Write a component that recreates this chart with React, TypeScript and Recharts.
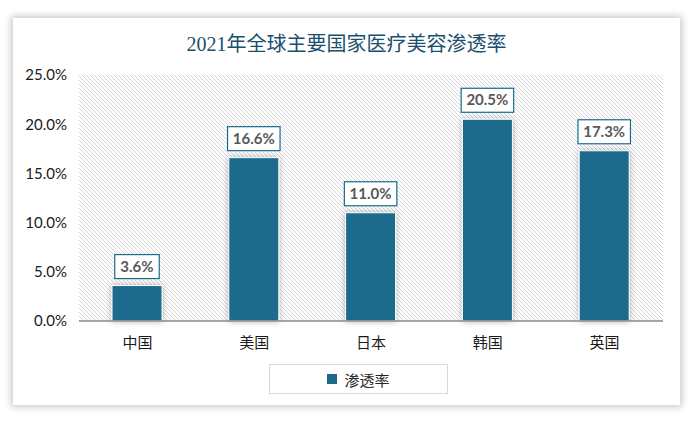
import React from "react";
import { Bar, BarChart, CartesianGrid, LabelList, XAxis, YAxis } from "recharts";

const countries = ["中国", "美国", "日本", "韩国", "英国"];
const penetration = [3.6, 16.6, 11.0, 20.5, 17.3];
const yTicks = [0, 5, 10, 15, 20, 25];

const data = countries.map((country, i) => ({ country, rate: penetration[i] }));

const BAR = "#1b6a8c";
const pct = (v: number) => `${v.toFixed(1)}%`;

const charW = (s: string) =>
  s.split("").reduce((w, c) => w + (c === "." ? 4 : c === "%" ? 12.5 : 8), 0);

function ValueBox(props: any) {
  const { x, y, width, value } = props;
  const text = pct(Number(value));
  const w = charW(text) + 12;
  const h = 24;
  const cx = x + width / 2;
  const top = y - 7 - h;
  return (
    <g>
      <rect x={cx - w / 2} y={top} width={w} height={h} fill="#fff" stroke={BAR} strokeWidth={1.2} />
      <text
        x={cx}
        y={top + h / 2 + 5}
        textAnchor="middle"
        fontFamily="Lato, 'Noto Sans', sans-serif"
        fontWeight={700}
        fontSize={15}
        fill="#595959"
      >
        {text}
      </text>
    </g>
  );
}

export default function App() {
  return (
    <div style={{ position: "absolute", left: 0, top: 0, width: 699, height: 426, background: "#fff" }}>
      <div
        style={{
          position: "absolute",
          left: 13,
          top: 18,
          width: 667,
          height: 387,
          background: "#fff",
          boxShadow: "0 0 7px 2px rgba(0,0,0,0.22)",
        }}
      >
        <div
          style={{
            position: "absolute",
            left: 0,
            top: 10,
            width: 667,
            textAlign: "center",
            fontFamily: "'Liberation Serif', 'Noto Sans CJK SC', serif",
            fontSize: 20,
            color: "#1b4f6e",
            zIndex: 1,
          }}
        >
          2021年全球主要国家医疗美容渗透率
        </div>
        <BarChart
          width={667}
          height={387}
          data={data}
          margin={{ top: 57, right: 17, left: 0, bottom: 54 }}
          barSize={50}
        >
          <defs>
            <pattern id="hatch" width="4" height="4" patternUnits="userSpaceOnUse">
              <path d="M-1,-1 L5,5 M3,-1 L5,1 M-1,3 L1,5" stroke="#d6d6d6" strokeWidth={1} />
            </pattern>
            <filter id="shadow" x="-30%" y="-30%" width="160%" height="160%">
              <feDropShadow dx="0" dy="0" stdDeviation="3" floodColor="#000" floodOpacity="0.3" />
            </filter>
          </defs>
          <CartesianGrid horizontal={false} vertical={false} fill="url(#hatch)" fillOpacity={1} />
          <XAxis
            dataKey="country"
            axisLine={{ stroke: "#898989", strokeWidth: 1.5 }}
            tickLine={false}
            tickMargin={10}
            height={30}
            tick={{ fill: "#1a1a1a", fontSize: 15, fontFamily: "'Noto Sans CJK SC', sans-serif" }}
          />
          <YAxis
            width={66}
            domain={[0, 25]}
            ticks={yTicks}
            tickFormatter={pct}
            axisLine={false}
            tickLine={false}
            tickSize={0}
            tickMargin={12}
            tick={{ fill: "#1a1a1a", fontSize: 15, fontFamily: "Lato, sans-serif" }}
          />
          <Bar
            dataKey="rate"
            name="渗透率"
            fill={BAR}
            stroke="#fff"
            strokeWidth={1}
            filter="url(#shadow)"
            isAnimationActive={false}
          >
            <LabelList dataKey="rate" content={ValueBox} />
          </Bar>
        </BarChart>
        <div
          style={{
            position: "absolute",
            left: 256,
            top: 346,
            width: 177,
            height: 28,
            border: "1px solid #d9d9d9",
            display: "flex",
            alignItems: "center",
            justifyContent: "center",
            gap: 7,
            fontFamily: "'Noto Sans CJK SC', sans-serif",
            fontSize: 15,
            color: "#262626",
          }}
        >
          <span style={{ width: 10, height: 10, background: BAR, display: "inline-block" }} />
          <span>渗透率</span>
        </div>
      </div>
    </div>
  );
}
